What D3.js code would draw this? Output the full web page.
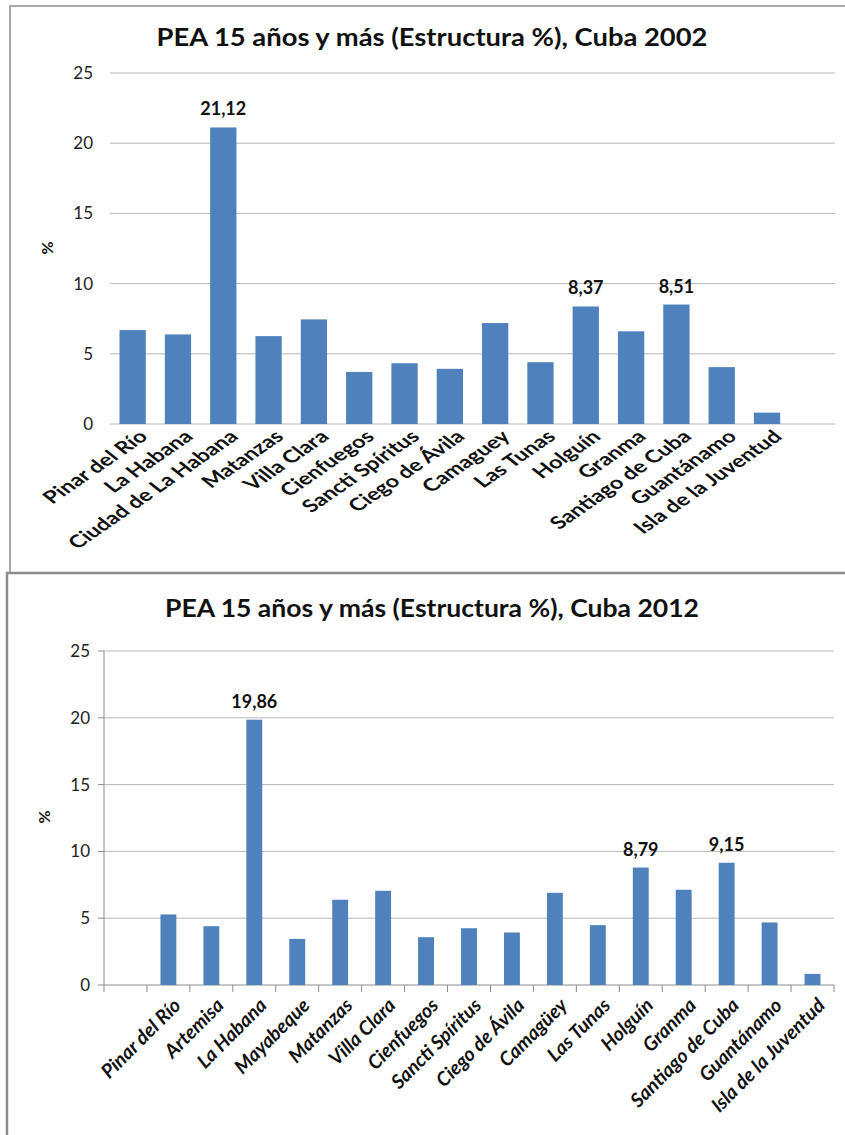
<!DOCTYPE html>
<html>
<head>
<meta charset="utf-8">
<script src="https://cdn.jsdelivr.net/npm/d3@7"></script>
<style>
  body { margin: 0; background: #fff; }
  svg { display: block; }
  text { font-family: Lato, "Open Sans", sans-serif; }
</style>
</head>
<body>
<div id="chart"></div>
<script>
// PEA 15 años y más, estructura % por provincia
const cats2002 = ["Pinar del Río", "La Habana", "Ciudad de La Habana", "Matanzas", "Villa Clara",
  "Cienfuegos", "Sancti Spíritus", "Ciego de Ávila", "Camaguey", "Las Tunas", "Holguín",
  "Granma", "Santiago de Cuba", "Guantánamo", "Isla de la Juventud"];
const vals2002 = [6.69, 6.38, 21.12, 6.26, 7.45, 3.71, 4.33, 3.93, 7.19, 4.40, 8.37, 6.60, 8.51, 4.05, 0.81];

const cats2012 = ["Pinar del Río", "Artemisa", "La Habana", "Mayabeque", "Matanzas", "Villa Clara",
  "Cienfuegos", "Sancti Spíritus", "Ciego de Ávila", "Camagüey", "Las Tunas", "Holguín",
  "Granma", "Santiago de Cuba", "Guantánamo", "Isla de la Juventud"];
const vals2012 = [5.28, 4.40, 19.86, 3.45, 6.38, 7.05, 3.58, 4.25, 3.93, 6.90, 4.48, 8.79, 7.13, 9.15, 4.68, 0.83];

const labelled2002 = ["Ciudad de La Habana", "Holguín", "Santiago de Cuba"];
const labelled2012 = ["La Habana", "Holguín", "Santiago de Cuba"];
const yTicks = [0, 5, 10, 15, 20, 25];

const W = 845, H = 1135;
const barColor = "#4f81bd";
const fmt = d3.formatLocale({decimal: ",", thousands: ".", grouping: [3], currency: ["", ""]}).format(".2f");

const svg = d3.select("#chart").append("svg")
    .attr("width", W)
    .attr("height", H);

// panel borders
svg.append("rect")
    .attr("x", 10).attr("y", 6)
    .attr("width", 900).attr("height", 567)
    .attr("fill", "none").attr("stroke", "#8c8c8c").attr("stroke-width", 1.5);
svg.append("rect")
    .attr("x", 7).attr("y", 573)
    .attr("width", 900).attr("height", 700)
    .attr("fill", "#fff").attr("stroke", "#8c8c8c").attr("stroke-width", 2.5);

function drawChart(opt) {
    let g = svg.append("g");
    let domain = opt.blankFirst ? ["_b", ...opt.cats] : [...opt.cats, "_b"];

    let x = d3.scaleBand()
        .domain(domain)
        .range([opt.left, opt.right])
        .paddingInner(opt.pad)
        .paddingOuter(opt.pad / 2);

    let y = d3.scaleLinear()
        .domain([0, 25])
        .range([opt.y0, opt.y25]);

    // gridlines
    g.append("g").selectAll("line").data(yTicks.filter(d => d > 0 || !opt.axis)).join("line")
        .attr("x1", opt.left).attr("x2", opt.right)
        .attr("y1", d => y(d)).attr("y2", d => y(d))
        .attr("stroke", "#b8b8b8").attr("stroke-width", 1);

    // y tick labels
    g.append("g").selectAll("text").data(yTicks).join("text")
        .attr("x", opt.left - opt.tickGap)
        .attr("y", d => y(d))
        .attr("dy", "0.35em")
        .attr("text-anchor", "end")
        .style("font-size", "17px")
        .attr("fill", "#222")
        .text(d => d);

    if (opt.axis) {
        // y axis line + ticks
        g.append("line")
            .attr("x1", opt.left).attr("x2", opt.left)
            .attr("y1", y(25)).attr("y2", y(0))
            .attr("stroke", "#8c8c8c");
        g.append("g").selectAll("line").data(yTicks).join("line")
            .attr("x1", opt.left - 6).attr("x2", opt.left)
            .attr("y1", d => y(d)).attr("y2", d => y(d))
            .attr("stroke", "#8c8c8c");
        // x axis line + ticks between categories
        g.append("line")
            .attr("x1", opt.left).attr("x2", opt.right)
            .attr("y1", y(0)).attr("y2", y(0))
            .attr("stroke", "#8c8c8c");
        let step = x.step();
        g.append("g").selectAll("line").data(d3.range(domain.length + 1)).join("line")
            .attr("x1", i => opt.left + i * step).attr("x2", i => opt.left + i * step)
            .attr("y1", y(0)).attr("y2", y(0) + 7)
            .attr("stroke", "#8c8c8c");
    }

    // bars
    let data = opt.cats.map((c, i) => ({cat: c, val: opt.vals[i]}));
    g.append("g").selectAll("rect").data(data).join("rect")
        .attr("x", d => x(d.cat))
        .attr("y", d => y(d.val))
        .attr("width", x.bandwidth())
        .attr("height", d => y(0) - y(d.val))
        .attr("fill", barColor);

    // value labels
    g.append("g").selectAll("text").data(data.filter(d => opt.labelled.includes(d.cat))).join("text")
        .attr("x", d => x(d.cat) + x.bandwidth() / 2)
        .attr("y", d => y(d.val) - 12)
        .attr("text-anchor", "middle")
        .style("font-size", "18px")
        .style("font-weight", "bold")
        .attr("fill", "#111")
        .text(d => fmt(d.val));

    // category labels (top chart's are a bit stretched in the original)
    g.append("g").selectAll("text").data(data).join("text")
        .attr("transform", d => `translate(${x(d.cat) + x.bandwidth() / 2 + opt.labDx},${y(0) + opt.labDy}) scale(${opt.stretch},1) rotate(${opt.angle})`)
        .attr("text-anchor", "end")
        .attr("dy", "0.7em")
        .style("font-size", opt.labSize + "px")
        .style("font-weight", "bold")
        .style("font-style", opt.italic ? "italic" : "normal")
        .attr("fill", "#111")
        .text(d => d.cat);

    // title
    g.append("text")
        .attr("x", 432).attr("y", opt.titleY)
        .attr("text-anchor", "middle")
        .attr("textLength", opt.titleW)
        .attr("lengthAdjust", "spacingAndGlyphs")
        .style("font-size", "25px")
        .style("font-weight", "bold")
        .attr("fill", "#111")
        .text(opt.title);

    // y axis title
    g.append("text")
        .attr("transform", `translate(${opt.pctX},${opt.pctY}) rotate(-90)`)
        .attr("text-anchor", "middle")
        .style("font-size", "16px")
        .style("font-weight", "bold")
        .attr("fill", "#111")
        .text("%");
}

drawChart({
    cats: cats2002, vals: vals2002, labelled: labelled2002, blankFirst: false,
    left: 110, right: 835, y0: 424, y25: 73, pad: 0.42, tickGap: 17,
    axis: false, angle: -43, stretch: 1.35, labDx: 5, labDy: 5, italic: false, labSize: 17.5,
    title: "PEA 15 años y más (Estructura %), Cuba 2002", titleY: 46, titleW: 551,
    pctX: 53, pctY: 248
});

drawChart({
    cats: cats2012, vals: vals2012, labelled: labelled2012, blankFirst: true,
    left: 104, right: 834, y0: 985, y25: 651, pad: 0.63, tickGap: 14,
    axis: true, angle: -45, stretch: 1, labDx: 4, labDy: 12, italic: true, labSize: 19.5,
    title: "PEA 15 años y más (Estructura %), Cuba 2012", titleY: 617, titleW: 534,
    pctX: 50, pctY: 817
});
</script>
</body>
</html>
